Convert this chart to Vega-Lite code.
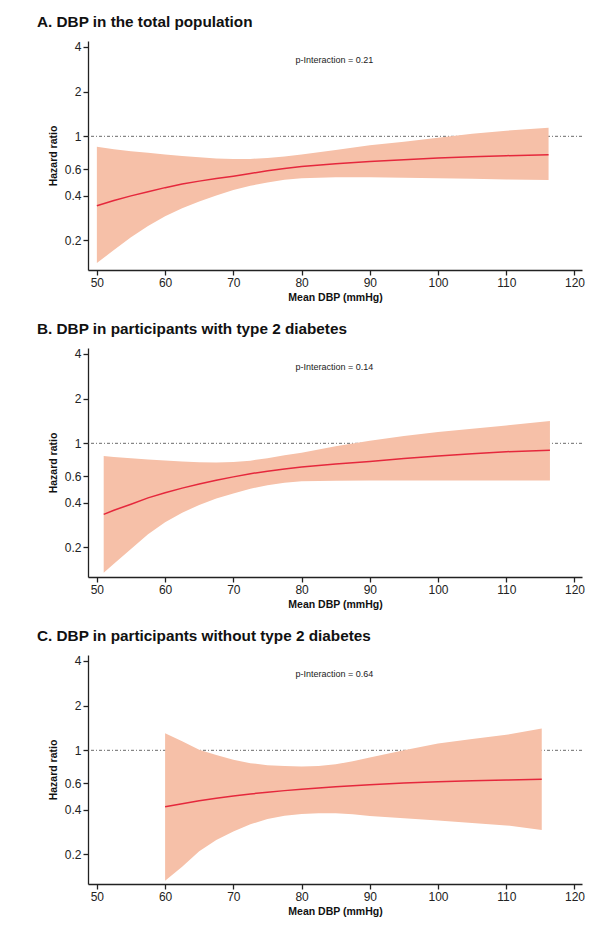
{
  "$schema": "https://vega.github.io/schema/vega-lite/v6.json",
  "padding": {"left": 37, "top": 15, "right": 5, "bottom": 5},
  "spacing": 19,
  "config": {
    "view": {"stroke": null},
    "font": "Liberation Sans",
    "axis": {
      "grid": false,
      "domainColor": "#222",
      "domainWidth": 1.3,
      "tickColor": "#222",
      "tickWidth": 1.3,
      "tickSize": 5,
      "labelFont": "Liberation Sans",
      "labelFontSize": 12,
      "labelColor": "#222",
      "titleFont": "Liberation Sans",
      "titleFontSize": 10.5,
      "titleFontWeight": "bold",
      "titleColor": "#111"
    },
    "title": {"font": "Liberation Sans", "fontSize": 15.3, "fontWeight": "bold", "anchor": "start", "frame": "group", "color": "#111", "offset": 10}
  },
  "datasets": {
    "A": [
      {"x": 50, "hr": 0.342, "lo": 0.141, "hi": 0.85},
      {"x": 52.5, "hr": 0.37, "lo": 0.172, "hi": 0.82},
      {"x": 55, "hr": 0.398, "lo": 0.21, "hi": 0.795},
      {"x": 57.5, "hr": 0.424, "lo": 0.25, "hi": 0.775},
      {"x": 60, "hr": 0.452, "lo": 0.29, "hi": 0.755},
      {"x": 62.5, "hr": 0.478, "lo": 0.328, "hi": 0.738},
      {"x": 65, "hr": 0.5, "lo": 0.365, "hi": 0.722},
      {"x": 67.5, "hr": 0.52, "lo": 0.4, "hi": 0.71},
      {"x": 70, "hr": 0.54, "lo": 0.435, "hi": 0.703},
      {"x": 72.5, "hr": 0.562, "lo": 0.465, "hi": 0.705},
      {"x": 75, "hr": 0.588, "lo": 0.49, "hi": 0.715},
      {"x": 77.5, "hr": 0.608, "lo": 0.51, "hi": 0.733},
      {"x": 80, "hr": 0.626, "lo": 0.522, "hi": 0.755},
      {"x": 85, "hr": 0.655, "lo": 0.53, "hi": 0.81},
      {"x": 90, "hr": 0.677, "lo": 0.53, "hi": 0.87},
      {"x": 95, "hr": 0.695, "lo": 0.527, "hi": 0.92},
      {"x": 100, "hr": 0.714, "lo": 0.522, "hi": 0.98},
      {"x": 105, "hr": 0.728, "lo": 0.518, "hi": 1.04},
      {"x": 110, "hr": 0.741, "lo": 0.513, "hi": 1.09},
      {"x": 116.2, "hr": 0.752, "lo": 0.509, "hi": 1.143}
    ],
    "B": [
      {"x": 51, "hr": 0.333, "lo": 0.135, "hi": 0.823},
      {"x": 52.5, "hr": 0.355, "lo": 0.155, "hi": 0.81},
      {"x": 55, "hr": 0.39, "lo": 0.195, "hi": 0.795},
      {"x": 57.5, "hr": 0.43, "lo": 0.245, "hi": 0.78},
      {"x": 60, "hr": 0.465, "lo": 0.295, "hi": 0.768},
      {"x": 62.5, "hr": 0.5, "lo": 0.342, "hi": 0.755},
      {"x": 65, "hr": 0.533, "lo": 0.385, "hi": 0.745},
      {"x": 67.5, "hr": 0.565, "lo": 0.425, "hi": 0.742},
      {"x": 70, "hr": 0.595, "lo": 0.46, "hi": 0.748},
      {"x": 72.5, "hr": 0.625, "lo": 0.495, "hi": 0.765},
      {"x": 75, "hr": 0.65, "lo": 0.523, "hi": 0.795},
      {"x": 77.5, "hr": 0.673, "lo": 0.543, "hi": 0.83},
      {"x": 80, "hr": 0.692, "lo": 0.555, "hi": 0.865},
      {"x": 85, "hr": 0.725, "lo": 0.561, "hi": 0.955},
      {"x": 90, "hr": 0.755, "lo": 0.563, "hi": 1.04},
      {"x": 95, "hr": 0.79, "lo": 0.563, "hi": 1.12},
      {"x": 100, "hr": 0.822, "lo": 0.563, "hi": 1.19},
      {"x": 105, "hr": 0.852, "lo": 0.563, "hi": 1.255},
      {"x": 110, "hr": 0.878, "lo": 0.563, "hi": 1.32},
      {"x": 116.4, "hr": 0.898, "lo": 0.563, "hi": 1.41}
    ],
    "C": [
      {"x": 60, "hr": 0.417, "lo": 0.133, "hi": 1.3},
      {"x": 62.5, "hr": 0.438, "lo": 0.165, "hi": 1.15},
      {"x": 65, "hr": 0.458, "lo": 0.21, "hi": 1.01},
      {"x": 67.5, "hr": 0.477, "lo": 0.25, "hi": 0.93},
      {"x": 70, "hr": 0.494, "lo": 0.285, "hi": 0.864},
      {"x": 72.5, "hr": 0.509, "lo": 0.318, "hi": 0.82},
      {"x": 75, "hr": 0.523, "lo": 0.346, "hi": 0.795},
      {"x": 77.5, "hr": 0.536, "lo": 0.363, "hi": 0.785},
      {"x": 80, "hr": 0.548, "lo": 0.373, "hi": 0.78},
      {"x": 82.5, "hr": 0.559, "lo": 0.377, "hi": 0.785},
      {"x": 85, "hr": 0.569, "lo": 0.377, "hi": 0.805},
      {"x": 87.5, "hr": 0.578, "lo": 0.372, "hi": 0.845},
      {"x": 90, "hr": 0.587, "lo": 0.362, "hi": 0.895},
      {"x": 95, "hr": 0.602, "lo": 0.35, "hi": 1.0},
      {"x": 100, "hr": 0.615, "lo": 0.337, "hi": 1.11},
      {"x": 105, "hr": 0.624, "lo": 0.325, "hi": 1.19},
      {"x": 110, "hr": 0.631, "lo": 0.313, "hi": 1.27},
      {"x": 115.2, "hr": 0.638, "lo": 0.292, "hi": 1.4}
    ],
    "ref": [{"ref": 1}],
    "annA": [{"x": 84.8, "y": 3.25, "label": "p-Interaction = 0.21"}],
    "annB": [{"x": 84.8, "y": 3.25, "label": "p-Interaction = 0.14"}],
    "annC": [{"x": 84.8, "y": 3.25, "label": "p-Interaction = 0.64"}]
  },
  "vconcat": [
    {
      "width": 494, "height": 229,
      "title": {"text": "A. DBP in the total population", "dx": -51},
      "encoding": {
        "x": {"field": "x", "type": "quantitative", "title": "Mean DBP (mmHg)",
              "scale": {"domain": [48.7, 121.1], "nice": false, "zero": false},
              "axis": {"values": [50, 60, 70, 80, 90, 100, 110, 120], "labelPadding": 2, "titlePadding": 4}}
      },
      "layer": [
        {"data": {"name": "ref"}, "mark": {"type": "rule", "color": "#444", "strokeWidth": 0.8, "strokeDash": [3, 2, 1, 2]},
         "encoding": {"x": null, "y": {"field": "ref", "type": "quantitative", "title": "Hazard ratio",
           "scale": {"type": "log", "domain": [0.1264, 4.37], "nice": false},
           "axis": {"values": [0.2, 0.4, 0.6, 1, 2, 4], "format": "~g", "labelPadding": 2, "titlePadding": 6}}}},
        {"data": {"name": "A"}, "mark": {"type": "area", "color": "#F6C0A8", "opacity": 1},
         "encoding": {"y": {"field": "lo", "type": "quantitative", "title": "Hazard ratio"}, "y2": {"field": "hi"}}},
        {"data": {"name": "A"}, "mark": {"type": "line", "color": "#E5283C", "strokeWidth": 1.5},
         "encoding": {"y": {"field": "hr", "type": "quantitative", "title": "Hazard ratio"}}},
        {"data": {"name": "annA"}, "mark": {"type": "text", "fontSize": 9, "color": "#222", "font": "Liberation Sans"},
         "encoding": {"y": {"field": "y", "type": "quantitative", "title": "Hazard ratio"}, "text": {"field": "label"}}}
      ]
    },
    {
      "width": 494, "height": 229,
      "title": {"text": "B. DBP in participants with type 2 diabetes", "dx": -51},
      "encoding": {
        "x": {"field": "x", "type": "quantitative", "title": "Mean DBP (mmHg)",
              "scale": {"domain": [48.7, 121.1], "nice": false, "zero": false},
              "axis": {"values": [50, 60, 70, 80, 90, 100, 110, 120], "labelPadding": 2, "titlePadding": 4}}
      },
      "layer": [
        {"data": {"name": "ref"}, "mark": {"type": "rule", "color": "#444", "strokeWidth": 0.8, "strokeDash": [3, 2, 1, 2]},
         "encoding": {"x": null, "y": {"field": "ref", "type": "quantitative", "title": "Hazard ratio",
           "scale": {"type": "log", "domain": [0.1264, 4.37], "nice": false},
           "axis": {"values": [0.2, 0.4, 0.6, 1, 2, 4], "format": "~g", "labelPadding": 2, "titlePadding": 6}}}},
        {"data": {"name": "B"}, "mark": {"type": "area", "color": "#F6C0A8", "opacity": 1},
         "encoding": {"y": {"field": "lo", "type": "quantitative", "title": "Hazard ratio"}, "y2": {"field": "hi"}}},
        {"data": {"name": "B"}, "mark": {"type": "line", "color": "#E5283C", "strokeWidth": 1.5},
         "encoding": {"y": {"field": "hr", "type": "quantitative", "title": "Hazard ratio"}}},
        {"data": {"name": "annB"}, "mark": {"type": "text", "fontSize": 9, "color": "#222", "font": "Liberation Sans"},
         "encoding": {"y": {"field": "y", "type": "quantitative", "title": "Hazard ratio"}, "text": {"field": "label"}}}
      ]
    },
    {
      "width": 494, "height": 229,
      "title": {"text": "C. DBP in participants without type 2 diabetes", "dx": -51},
      "encoding": {
        "x": {"field": "x", "type": "quantitative", "title": "Mean DBP (mmHg)",
              "scale": {"domain": [48.7, 121.1], "nice": false, "zero": false},
              "axis": {"values": [50, 60, 70, 80, 90, 100, 110, 120], "labelPadding": 2, "titlePadding": 4}}
      },
      "layer": [
        {"data": {"name": "ref"}, "mark": {"type": "rule", "color": "#444", "strokeWidth": 0.8, "strokeDash": [3, 2, 1, 2]},
         "encoding": {"x": null, "y": {"field": "ref", "type": "quantitative", "title": "Hazard ratio",
           "scale": {"type": "log", "domain": [0.1264, 4.37], "nice": false},
           "axis": {"values": [0.2, 0.4, 0.6, 1, 2, 4], "format": "~g", "labelPadding": 2, "titlePadding": 6}}}},
        {"data": {"name": "C"}, "mark": {"type": "area", "color": "#F6C0A8", "opacity": 1},
         "encoding": {"y": {"field": "lo", "type": "quantitative", "title": "Hazard ratio"}, "y2": {"field": "hi"}}},
        {"data": {"name": "C"}, "mark": {"type": "line", "color": "#E5283C", "strokeWidth": 1.5},
         "encoding": {"y": {"field": "hr", "type": "quantitative", "title": "Hazard ratio"}}},
        {"data": {"name": "annC"}, "mark": {"type": "text", "fontSize": 9, "color": "#222", "font": "Liberation Sans"},
         "encoding": {"y": {"field": "y", "type": "quantitative", "title": "Hazard ratio"}, "text": {"field": "label"}}}
      ]
    }
  ]
}
